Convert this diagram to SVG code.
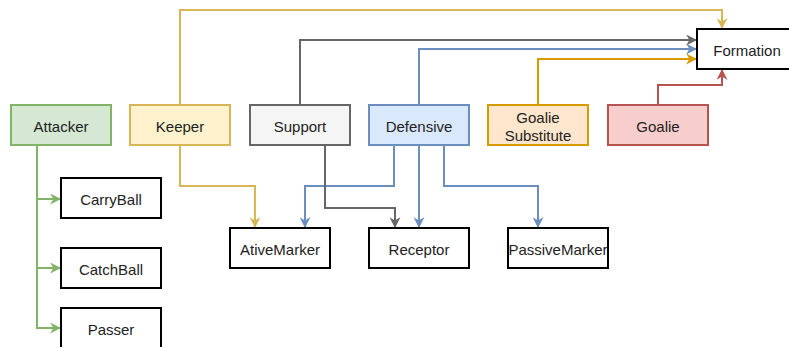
<svg xmlns="http://www.w3.org/2000/svg" width="789" height="347" viewBox="0 0 789 347">
<defs>
<style>
text{font-family:"Liberation Sans",Arial,sans-serif;font-size:15px;fill:#222;text-anchor:middle;dominant-baseline:central}
rect{stroke-width:2}
.plain{fill:#fff;stroke:#000}
.c{fill:none;stroke-width:2}
</style>
<marker id="aY" viewBox="0 0 10 10" refX="9" refY="5" markerWidth="11" markerHeight="11" orient="auto" markerUnits="userSpaceOnUse"><path d="M0,0 L10,5 L0,10 L3,5 z" fill="#d6b656"/></marker>
<marker id="aG" viewBox="0 0 10 10" refX="9" refY="5" markerWidth="11" markerHeight="11" orient="auto" markerUnits="userSpaceOnUse"><path d="M0,0 L10,5 L0,10 L3,5 z" fill="#666666"/></marker>
<marker id="aB" viewBox="0 0 10 10" refX="9" refY="5" markerWidth="11" markerHeight="11" orient="auto" markerUnits="userSpaceOnUse"><path d="M0,0 L10,5 L0,10 L3,5 z" fill="#6c8ebf"/></marker>
<marker id="aO" viewBox="0 0 10 10" refX="9" refY="5" markerWidth="11" markerHeight="11" orient="auto" markerUnits="userSpaceOnUse"><path d="M0,0 L10,5 L0,10 L3,5 z" fill="#d79b00"/></marker>
<marker id="aR" viewBox="0 0 10 10" refX="9" refY="5" markerWidth="11" markerHeight="11" orient="auto" markerUnits="userSpaceOnUse"><path d="M0,0 L10,5 L0,10 L3,5 z" fill="#b85450"/></marker>
<marker id="aN" viewBox="0 0 10 10" refX="9" refY="5" markerWidth="11" markerHeight="11" orient="auto" markerUnits="userSpaceOnUse"><path d="M0,0 L10,5 L0,10 L3,5 z" fill="#82b366"/></marker>
</defs>
<rect width="789" height="347" fill="#fff"/>
<g id="connectors">
<path class="c" stroke="#d6b656" d="M180,105 V10 H722 V28" marker-end="url(#aY)"/>
<path class="c" stroke="#666666" d="M300,105 V40 H696" marker-end="url(#aG)"/>
<path class="c" stroke="#6c8ebf" d="M419,105 V49 H696" marker-end="url(#aB)"/>
<path class="c" stroke="#d79b00" d="M538,105 V59 H696" marker-end="url(#aO)"/>
<path class="c" stroke="#b85450" d="M658,105 V85 H722 V70" marker-end="url(#aR)"/>
<path class="c" stroke="#82b366" d="M37,145 V328 H60" marker-end="url(#aN)"/>
<path class="c" stroke="#82b366" d="M37,199 H60" marker-end="url(#aN)"/>
<path class="c" stroke="#82b366" d="M37,268 H60" marker-end="url(#aN)"/>
<path class="c" stroke="#d6b656" d="M180,145 V186 H255 V227" marker-end="url(#aY)"/>
<path class="c" stroke="#6c8ebf" d="M394,145 V186 H305 V227" marker-end="url(#aB)"/>
<path class="c" stroke="#666666" d="M325,145 V208 H395 V227" marker-end="url(#aG)"/>
<path class="c" stroke="#6c8ebf" d="M419,145 V227" marker-end="url(#aB)"/>
<path class="c" stroke="#6c8ebf" d="M444,145 V186 H538 V227" marker-end="url(#aB)"/>
</g>
<g id="attacker"><rect x="11" y="105" width="100" height="40" fill="#d5e8d4" stroke="#82b366"/><text x="61" y="126">Attacker</text></g>
<g id="keeper"><rect x="130" y="105" width="100" height="40" fill="#fff2cc" stroke="#d6b656"/><text x="180" y="126">Keeper</text></g>
<g id="support"><rect x="250" y="105" width="100" height="40" fill="#f5f5f5" stroke="#666666"/><text x="300" y="126">Support</text></g>
<g id="defensive"><rect x="369" y="105" width="100" height="40" fill="#dae8fc" stroke="#6c8ebf"/><text x="419" y="126">Defensive</text></g>
<g id="goalie-substitute"><rect x="488" y="105" width="100" height="40" fill="#ffe6cc" stroke="#d79b00"/><text x="538" y="117">Goalie</text><text x="538" y="135">Substitute</text></g>
<g id="goalie"><rect x="608" y="105" width="100" height="40" fill="#f8cecc" stroke="#b85450"/><text x="658" y="126">Goalie</text></g>
<g id="formation"><rect class="plain" x="697" y="29" width="100" height="40"/><text x="747" y="50">Formation</text></g>
<g id="carryball"><rect class="plain" x="61" y="178" width="100" height="40"/><text x="111" y="199">CarryBall</text></g>
<g id="catchball"><rect class="plain" x="61" y="248" width="100" height="40"/><text x="111" y="269">CatchBall</text></g>
<g id="passer"><rect class="plain" x="61" y="308" width="100" height="40"/><text x="111" y="329">Passer</text></g>
<g id="ativemarker"><rect class="plain" x="230" y="228" width="100" height="40"/><text x="280" y="249">AtiveMarker</text></g>
<g id="receptor"><rect class="plain" x="369" y="228" width="100" height="40"/><text x="419" y="249">Receptor</text></g>
<g id="passivemarker"><rect class="plain" x="508" y="228" width="100" height="40"/><text x="558" y="249">PassiveMarker</text></g>
</svg>
